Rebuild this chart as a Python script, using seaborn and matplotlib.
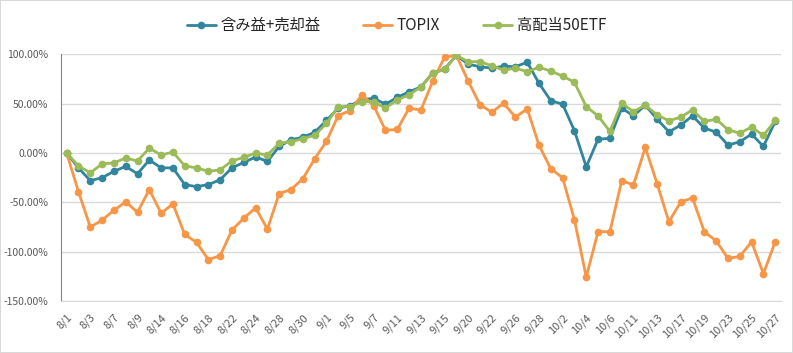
import numpy as np
import pandas as pd
import matplotlib
matplotlib.use("Agg")
import matplotlib.pyplot as plt
import seaborn as sns
from matplotlib.lines import Line2D
from matplotlib.ticker import FuncFormatter

# ----------------------------
# データ (8/1〜10/27 の営業日, 単位: %)
# ----------------------------
dates = [
    "8/1", "8/2", "8/3", "8/4", "8/7", "8/8", "8/9", "8/10", "8/14", "8/15",
    "8/16", "8/17", "8/18", "8/21", "8/22", "8/23", "8/24", "8/25", "8/28", "8/29",
    "8/30", "8/31", "9/1", "9/4", "9/5", "9/6", "9/7", "9/8", "9/11", "9/12",
    "9/13", "9/14", "9/15", "9/19", "9/20", "9/21", "9/22", "9/25", "9/26", "9/27",
    "9/28", "9/29", "10/2", "10/3", "10/4", "10/5", "10/6", "10/10", "10/11", "10/12",
    "10/13", "10/16", "10/17", "10/18", "10/19", "10/20", "10/23", "10/24", "10/25", "10/26",
    "10/27",
]

fukumi = [
    0, -15, -28, -25, -18.5, -13.5, -21, -7, -15, -15,
    -32, -34, -32, -27, -15, -9.5, -4, -8.4, 6.7, 13.5,
    16, 21, 33, 45.5, 48, 54, 55.5, 49.5, 56.5, 62,
    67, 81, 85, 99, 90, 87.5, 86, 88, 87.5, 92,
    70.7, 53, 49.5, 22.6, -14, 14, 15, 45.5, 37.7, 48.5,
    34.3, 21.5, 28.3, 37.7, 25.3, 21.2, 8.1, 11.4, 19.2, 6.7,
    32,
]

topix = [
    0, -39, -75, -68, -58, -49.5, -60, -37, -61, -51.5,
    -82.5, -90.5, -108, -104, -78, -66, -55.5, -77, -41, -37,
    -26, -6, 12, 38, 43, 59, 48, 23, 24, 45.5,
    43.5, 73, 97, 99, 73, 49, 41.4, 50.5, 36.4, 44.8,
    8, -16, -25, -67.7, -125.6, -79.5, -79.8, -28, -32.3, 5.7,
    -31, -69.7, -49.5, -45.5, -79.8, -88.9, -106.7, -104.7, -89.9, -122.2,
    -89.9,
]

kohaito = [
    0, -13, -20, -11, -10, -5, -8, 5, -2, 1,
    -13, -15, -18.5, -17, -8, -4.4, 0, -2, 10, 11.5,
    14.5, 18, 30, 47, 47, 52, 52, 45.5, 54, 59,
    67, 80.8, 84.8, 99, 92.6, 92.6, 88.5, 84, 86, 82.5,
    87, 83, 78, 71.7, 47, 37.7, 22, 50.5, 42, 48.5,
    38.7, 32.7, 36.4, 43.8, 32, 34.3, 23.6, 20.2, 26.3, 17.8,
    33,
]

series_names = ["含み益+売却益", "TOPIX", "高配当50ETF"]
colors = {"含み益+売却益": "#31859C", "TOPIX": "#F79646", "高配当50ETF": "#9BBB59"}

idx = np.arange(len(dates))
df = pd.concat([
    pd.DataFrame({"idx": idx, "value": vals, "series": name})
    for name, vals in zip(series_names, [fukumi, topix, kohaito])
], ignore_index=True)

# ----------------------------
# スタイル
# ----------------------------
sns.set_style("white")
plt.rcParams["font.family"] = ["Noto Sans CJK JP", "DejaVu Sans"]

fig = plt.figure(figsize=(7.93, 3.53), dpi=100, facecolor="white",
                 edgecolor="#D9D9D9", linewidth=1.2)
ax = fig.add_axes([0.0766, 0.147, 0.9084, 0.699])

sns.lineplot(data=df, x="idx", y="value", hue="series", hue_order=series_names,
             palette=colors, marker="o", markersize=5.5, markeredgewidth=0,
             linewidth=2, sort=False, legend=False, ax=ax)

ax.set_xlim(-0.5, len(dates) - 0.5)
ax.set_ylim(-150, 100)
ax.set_yticks(np.arange(-150, 101, 50))
ax.yaxis.set_major_formatter(FuncFormatter(lambda v, p: f"{v:.2f}%"))
ax.set_xticks(idx[::2])
ax.set_xticklabels(dates[::2], rotation=45, ha="right", va="top",
                   rotation_mode="anchor")
ax.set_xlabel("")
ax.set_ylabel("")

ax.grid(axis="y", color="#D9D9D9", linewidth=1)
ax.set_axisbelow(True)
for s in ["top", "right"]:
    ax.spines[s].set_visible(False)
ax.spines["left"].set_color("#868686")
ax.spines["bottom"].set_color("#D9D9D9")
ax.tick_params(axis="y", length=0, pad=9, labelsize=7.5, labelcolor="#595959")
ax.tick_params(axis="x", length=0, pad=8, labelsize=8, labelcolor="#595959")

handles = [Line2D([0], [0], color=colors[n], marker="o", markersize=5.5,
                  markeredgewidth=0, linewidth=2) for n in series_names]
fig.legend(handles, series_names, loc="center", bbox_to_anchor=(0.5, 0.928),
           ncol=3, frameon=False, fontsize=11, handlelength=1.9,
           handletextpad=0.3, columnspacing=2.8)

fig.savefig("out.png", dpi=100)
